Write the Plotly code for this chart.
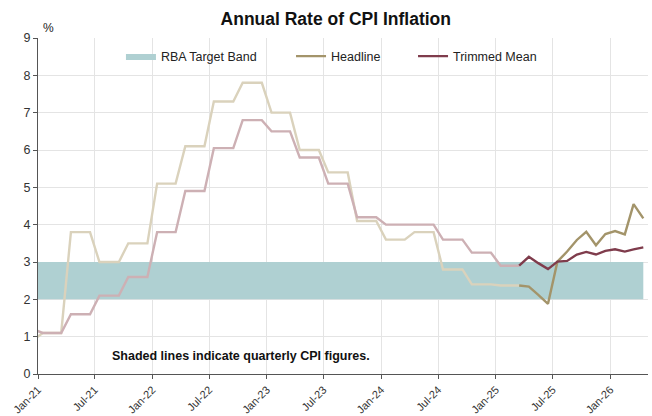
import pandas as pd
import plotly.graph_objects as go

# ---------------- data ----------------
# Quarterly-based series (held for the three months of each quarter), Dec-20 .. Mar-25
months_q = pd.date_range("2020-12-01", "2025-03-01", freq="MS")
headline_q = [0.9,
              1.1, 1.1, 1.1, 3.8, 3.8, 3.8, 3.0, 3.0, 3.0, 3.5, 3.5, 3.5,
              5.1, 5.1, 5.1, 6.1, 6.1, 6.1, 7.3, 7.3, 7.3, 7.8, 7.8, 7.8,
              7.0, 7.0, 7.0, 6.0, 6.0, 6.0, 5.4, 5.4, 5.4, 4.1, 4.1, 4.1,
              3.6, 3.6, 3.6, 3.8, 3.8, 3.8, 2.8, 2.8, 2.8, 2.4, 2.4, 2.4,
              2.37, 2.37, 2.37]
trimmed_q = [1.2,
             1.1, 1.1, 1.1, 1.6, 1.6, 1.6, 2.1, 2.1, 2.1, 2.6, 2.6, 2.6,
             3.8, 3.8, 3.8, 4.9, 4.9, 4.9, 6.05, 6.05, 6.05, 6.8, 6.8, 6.8,
             6.5, 6.5, 6.5, 5.8, 5.8, 5.8, 5.1, 5.1, 5.1, 4.2, 4.2, 4.2,
             4.0, 4.0, 4.0, 4.0, 4.0, 4.0, 3.6, 3.6, 3.6, 3.25, 3.25, 3.25,
             2.9, 2.9, 2.9]

# Monthly series, Mar-25 .. Apr-26
months_m = pd.date_range("2025-03-01", "2026-04-01", freq="MS")
headline_m = [2.37, 2.34, 2.12, 1.88, 3.01, 3.28, 3.59, 3.81, 3.45, 3.75, 3.83, 3.74, 4.55, 4.17]
trimmed_m = [2.9, 3.14, 2.97, 2.81, 3.01, 3.03, 3.2, 3.27, 3.2, 3.3, 3.34, 3.28, 3.34, 3.39]

band_low, band_high = 2, 3

tick_dates = pd.date_range("2021-01-01", "2026-01-01", freq="6MS")
tick_text = [d.strftime("%b-%y") for d in tick_dates]
y_ticks = list(range(0, 10))

# ---------------- styling ----------------
FONT = "Arial, 'Liberation Sans', sans-serif"
BAND = "#afd0d2"
HEAD_LIGHT = "#dad2bc"
HEAD_DARK = "#a3946a"
TRIM_LIGHT = "#cdb0b4"
TRIM_DARK = "#7f3c4c"
LW = 2.4

mid = pd.Timedelta(days=15)
xq = months_q + mid
xm = months_m + mid

x_start = pd.Timestamp("2021-01-01")
x_end = pd.Timestamp("2026-05-01")

fig = go.Figure()

# Target band
band_x = [x_start, xm[-1], xm[-1], x_start]
fig.add_trace(go.Scatter(
    x=band_x, y=[band_low, band_low, band_high, band_high],
    fill="toself", fillcolor=BAND, mode="lines", line=dict(width=0, color=BAND),
    name="RBA Target Band", legend="legend", hoverinfo="skip"))

# Quarterly (shaded) lines
fig.add_trace(go.Scatter(x=xq, y=headline_q, mode="lines",
                         line=dict(color=HEAD_LIGHT, width=LW), showlegend=False))
fig.add_trace(go.Scatter(x=xq, y=trimmed_q, mode="lines",
                         line=dict(color=TRIM_LIGHT, width=LW), showlegend=False))
# Monthly lines
fig.add_trace(go.Scatter(x=xm, y=headline_m, mode="lines", name="Headline",
                         line=dict(color=HEAD_DARK, width=LW), legend="legend2"))
fig.add_trace(go.Scatter(x=xm, y=trimmed_m, mode="lines", name="Trimmed Mean",
                         line=dict(color=TRIM_DARK, width=LW), legend="legend3"))

leg_common = dict(orientation="h", yanchor="middle", y=0.945, xanchor="left",
                  bgcolor="rgba(0,0,0,0)", borderwidth=0,
                  font=dict(family=FONT, size=12.5, color="#222222"))

fig.update_layout(
    width=652, height=416,
    margin=dict(l=38, r=4, t=38, b=42),
    paper_bgcolor="white", plot_bgcolor="white",
    font=dict(family=FONT, color="#333333"),
    title=dict(text="<b>Annual Rate of CPI Inflation</b>", x=0.515, xanchor="center",
               y=0.954, yanchor="middle", font=dict(family=FONT, size=17.5, color="#111111")),
    showlegend=True,
    legend=dict(x=0.136, **leg_common),
    legend2=dict(x=0.4148, **leg_common),
    legend3=dict(x=0.6148, **leg_common),
    xaxis=dict(type="date", range=[x_start, x_end], automargin=False,
               tickvals=list(tick_dates), ticktext=tick_text, tickangle=-45,
               tickfont=dict(family=FONT, size=11, color="#333333"),
               showgrid=True, gridcolor="#e4e4e4", gridwidth=1,
               showline=True, linecolor="#555555", linewidth=1,
               ticks="outside", ticklen=4, tickcolor="#555555",
               zeroline=False, fixedrange=True),
    yaxis=dict(range=[0, 9], tickvals=y_ticks, automargin=False,
               tickfont=dict(family=FONT, size=12.5, color="#333333"),
               showgrid=True, gridcolor="#e4e4e4", gridwidth=1,
               showline=True, linecolor="#555555", linewidth=1,
               ticks="outside", ticklen=4, tickcolor="#555555",
               zeroline=False, fixedrange=True),
    annotations=[
        dict(text="%", xref="paper", yref="paper", x=(48 - 38) / 610, y=1 + (38 - 28) / 336,
             xanchor="center", yanchor="middle", showarrow=False,
             font=dict(family=FONT, size=12, color="#222222")),
        dict(text="<b>Shaded lines indicate quarterly CPI figures.</b>", xref="paper", yref="paper",
             x=(110 - 38) / 610, y=(374 - 356) / 336, xanchor="left", yanchor="middle",
             showarrow=False, font=dict(family=FONT, size=12.5, color="#111111")),
    ],
)

fig.write_html("out.html")
